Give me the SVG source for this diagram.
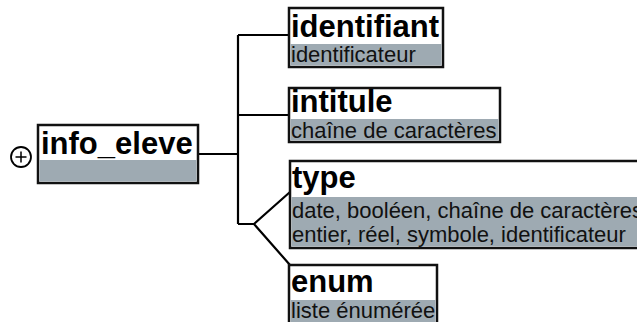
<svg xmlns="http://www.w3.org/2000/svg" width="637" height="322" viewBox="0 0 637 322">
<style>
.box{fill:#fff;stroke:#111;stroke-width:2.5}
.sub{fill:#9eaab2}
.t{font-family:"Liberation Sans",Arial,sans-serif;font-weight:bold;font-size:31px;fill:#000}
.s{font-family:"Liberation Sans",Arial,sans-serif;font-size:22px;fill:#111}
.ln{fill:none;stroke:#000;stroke-width:2.2}
</style>
<rect width="637" height="322" fill="#fff"/>
<g id="connectors">
<path class="ln" d="M198,154 H238 M238,35 V224 M238,35 H289 M238,115 H289 M238,224 H254 L290,192 M254,224 L290,265"/>
</g>
<g id="info_eleve">
<circle cx="21" cy="157" r="10" fill="#fff" stroke="#000" stroke-width="1.8"/>
<path d="M15.5,157 H26.5 M21,151.5 V162.5" stroke="#000" stroke-width="1.5"/>
<rect class="box" x="38" y="125" width="160" height="58"/>
<rect class="sub" x="39.5" y="160" width="157" height="21.5"/>
<text class="t" x="41" y="154">info_eleve</text>
</g>
<g id="identifiant">
<rect class="box" x="289" y="8" width="154" height="59"/>
<rect class="sub" x="290.5" y="44" width="151" height="21.5"/>
<text class="t" x="291" y="37">identifiant</text>
<text class="s" x="291" y="62">identificateur</text>
</g>
<g id="intitule">
<rect class="box" x="289" y="88" width="211" height="54"/>
<rect class="sub" x="290.5" y="119" width="208" height="21.5"/>
<text class="t" x="291" y="112">intitule</text>
<text class="s" x="291" y="138">chaîne de caractères</text>
</g>
<g id="type">
<rect class="box" x="290" y="161" width="370" height="87"/>
<rect class="sub" x="291.5" y="197" width="367" height="49.5"/>
<text class="t" x="292" y="188">type</text>
<text class="s" x="292" y="218">date, booléen, chaîne de caractères</text>
<text class="s" x="292" y="242">entier, réel, symbole, identificateur</text>
</g>
<g id="enum">
<rect class="box" x="289" y="265" width="148" height="70"/>
<rect class="sub" x="290.5" y="300" width="145" height="33"/>
<text class="t" x="291" y="292">enum</text>
<text class="s" x="291" y="318">liste énumérée</text>
</g>
</svg>
